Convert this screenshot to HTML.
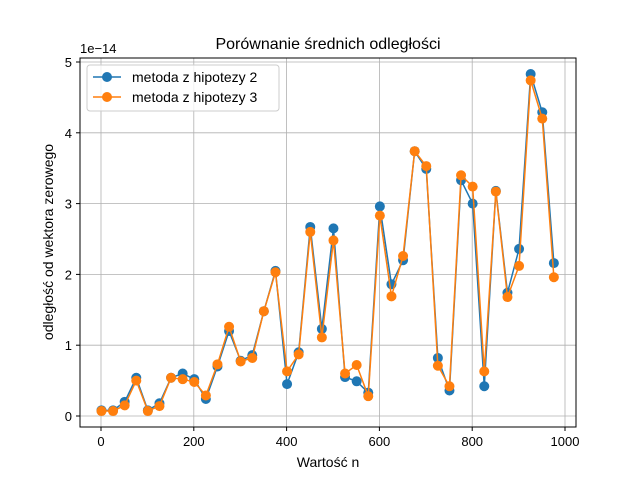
<!DOCTYPE html>
<html><head><meta charset="utf-8"><style>
body{margin:0;background:#fff;}
svg text{font-family:"Liberation Sans","DejaVu Sans",sans-serif;}
</style></head><body>
<svg id="chart" width="640" height="480" xmlns="http://www.w3.org/2000/svg">
<rect width="640" height="480" fill="#fff"/>
<g id="grid"></g>
<g id="series"></g>
<rect x="80" y="58" width="496" height="369" fill="none" stroke="#000" stroke-width="1"/>
<g id="ticks"></g>
<text x="328" y="49" font-size="16" text-anchor="middle">Porównanie średnich odległości</text>
<text x="328" y="467" font-size="14" text-anchor="middle">Wartość n</text>
<text transform="translate(53,242) rotate(-90)" font-size="14" text-anchor="middle">odległość od wektora zerowego</text>
<text x="80" y="53" font-size="13">1e−14</text>
<g>
<rect x="87" y="65" width="192" height="46" rx="3" fill="#fff" fill-opacity="0.8" stroke="#ccc"/>
<g>
<line x1="93" y1="77" x2="121" y2="77" stroke="#1f77b4" stroke-width="1.5"/><circle cx="107" cy="77" r="5" fill="#1f77b4"/>
<text x="132" y="82" font-size="14">metoda z hipotezy 2</text></g>
<g>
<line x1="93" y1="97" x2="121" y2="97" stroke="#ff7f0e" stroke-width="1.5"/><circle cx="107" cy="97" r="5" fill="#ff7f0e"/>
<text x="132" y="102" font-size="14">metoda z hipotezy 3</text></g>
</g>
</svg>
<script>
const nValues=[1,26,51,76,101,126,151,176,201,226,251,276,301,326,351,376,401,426,451,476,501,526,551,576,601,626,651,676,701,726,751,776,801,826,851,876,901,926,951,976];
const seriesH2=[0.08,0.08,0.2,0.54,0.08,0.18,0.54,0.6,0.52,0.24,0.7,1.2,0.78,0.86,1.48,2.05,0.45,0.9,2.67,1.23,2.65,0.55,0.49,0.33,2.96,1.86,2.2,3.74,3.49,0.82,0.36,3.33,3.0,0.42,3.18,1.74,2.36,4.83,4.29,2.16];
const seriesH3=[0.07,0.07,0.15,0.5,0.07,0.14,0.54,0.52,0.48,0.29,0.73,1.26,0.77,0.82,1.48,2.03,0.63,0.87,2.6,1.11,2.48,0.6,0.72,0.28,2.83,1.69,2.26,3.74,3.53,0.71,0.42,3.4,3.24,0.63,3.17,1.68,2.12,4.74,4.2,1.96];
const xTicks=[0,200,400,600,800,1000];
const yTicks=[0,1,2,3,4,5];
const NS="http://www.w3.org/2000/svg";
function X(v){return 101+v*0.464;}
function Y(v){return 416-v*70.8;}
function mk(tag,attrs,parent){const e=document.createElementNS(NS,tag);for(const k in attrs)e.setAttribute(k,attrs[k]);parent.appendChild(e);return e;}
const grid=document.getElementById('grid'),ticks=document.getElementById('ticks'),ser=document.getElementById('series');
xTicks.forEach(t=>{const x=X(t);
 const g=mk('line',{x1:x,x2:x,y1:58,y2:427,stroke:'#b0b0b0','stroke-width':0.8},grid);
 
 mk('line',{x1:x,x2:x,y1:427,y2:431,stroke:'#000'},ticks);
 const tx=mk('text',{x:x,y:446,'font-size':13,'text-anchor':'middle'},ticks);tx.textContent=t;
 });
yTicks.forEach(t=>{const y=Y(t);
 const g=mk('line',{x1:80,x2:576,y1:y,y2:y,stroke:'#b0b0b0','stroke-width':0.8},grid);
 
 mk('line',{x1:76,x2:80,y1:y,y2:y,stroke:'#000'},ticks);
 const tx=mk('text',{x:72,y:y+5,'font-size':13,'text-anchor':'end'},ticks);tx.textContent=t;
 });
function draw(vals,color,name){
 const g=mk('g',{},ser);
 const pts=vals.map((v,i)=>X(nValues[i])+','+Y(v)).join(' ');
 const pl=mk('polyline',{points:pts,fill:'none',stroke:color,'stroke-width':1.5},g);
 
 vals.forEach((v,i)=>{const c=mk('circle',{cx:X(nValues[i]),cy:Y(v),r:5,fill:color},g);
  });
}
draw(seriesH2,'#1f77b4','series-hipoteza-2');
draw(seriesH3,'#ff7f0e','series-hipoteza-3');
</script>
</body></html>
